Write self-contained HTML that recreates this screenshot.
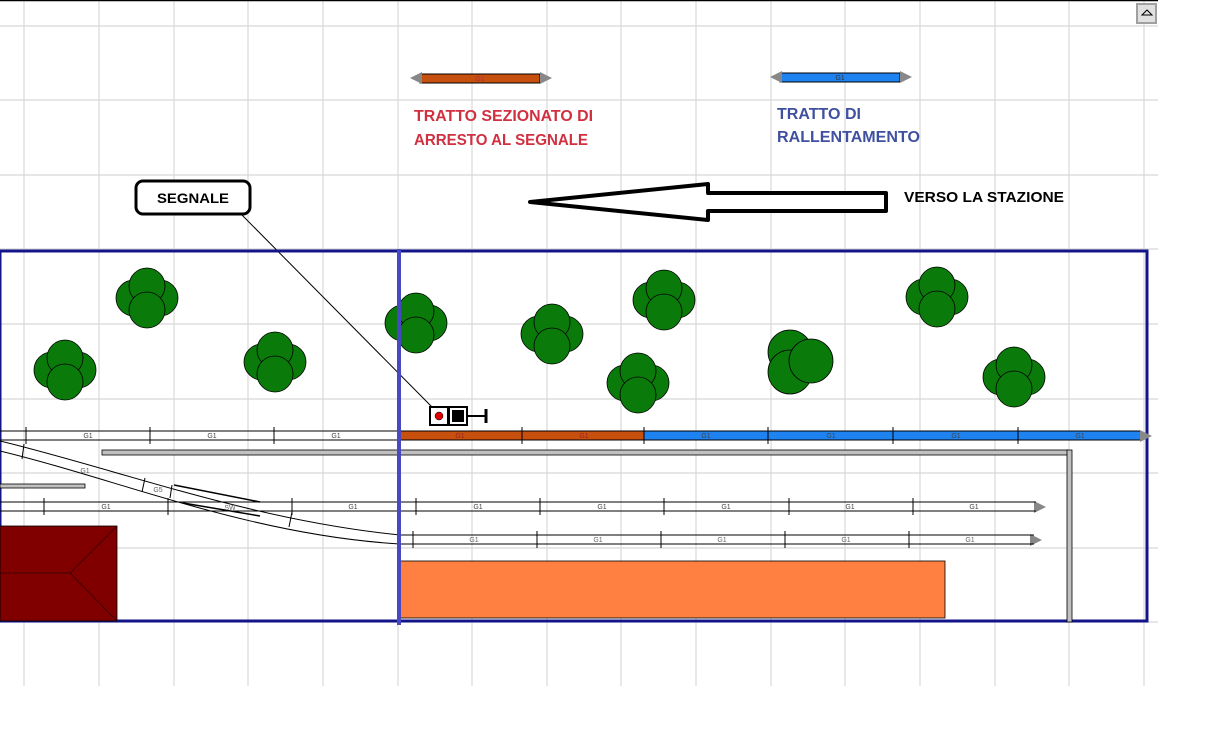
<!DOCTYPE html>
<html><head><meta charset="utf-8"><style>
html,body{margin:0;padding:0;background:#fff;}
svg{display:block;font-family:"Liberation Sans",sans-serif;}
.b{font-weight:bold;}
</style></head><body>
<svg width="1230" height="734" viewBox="0 0 1230 734" xmlns="http://www.w3.org/2000/svg">
<rect width="1230" height="734" fill="#fff"/>
<g stroke="#d8d8d8" stroke-width="1.2">
<line x1="24" y1="0" x2="24" y2="686"/><line x1="99" y1="0" x2="99" y2="686"/><line x1="174" y1="0" x2="174" y2="686"/><line x1="248" y1="0" x2="248" y2="686"/><line x1="323" y1="0" x2="323" y2="686"/><line x1="398" y1="0" x2="398" y2="686"/><line x1="472" y1="0" x2="472" y2="686"/><line x1="547" y1="0" x2="547" y2="686"/><line x1="621" y1="0" x2="621" y2="686"/><line x1="696" y1="0" x2="696" y2="686"/><line x1="771" y1="0" x2="771" y2="686"/><line x1="845" y1="0" x2="845" y2="686"/><line x1="920" y1="0" x2="920" y2="686"/><line x1="995" y1="0" x2="995" y2="686"/><line x1="1069" y1="0" x2="1069" y2="686"/><line x1="1144" y1="0" x2="1144" y2="686"/>
<line x1="0" y1="26" x2="1158" y2="26"/><line x1="0" y1="100" x2="1158" y2="100"/><line x1="0" y1="175" x2="1158" y2="175"/><line x1="0" y1="249" x2="1158" y2="249"/><line x1="0" y1="324" x2="1158" y2="324"/><line x1="0" y1="399" x2="1158" y2="399"/><line x1="0" y1="473" x2="1158" y2="473"/><line x1="0" y1="548" x2="1158" y2="548"/><line x1="0" y1="622" x2="1158" y2="622"/>
</g>
<line x1="0" y1="0.5" x2="1158" y2="0.5" stroke="#000" stroke-width="1.5"/>
<rect x="1137" y="4" width="19" height="19" fill="#e0e0e0" stroke="#a0a0a0" stroke-width="2"/>
<path d="M1142,15 L1147,10 L1152,15 Z" fill="none" stroke="#000"/>

<!-- legend bars -->
<rect x="420" y="74" width="120" height="9" fill="#c8500f" stroke="#000"/>
<polygon points="410,78 422,72 422,84" fill="#888"/><polygon points="552,78 540,72 540,84" fill="#888"/>
<text x="480" y="81" font-size="7" fill="#a33" text-anchor="middle">G1</text>
<rect x="780" y="73" width="120" height="9" fill="#1e82f0" stroke="#000"/>
<polygon points="770,77 782,71 782,83" fill="#888"/><polygon points="912,77 900,71 900,83" fill="#888"/>
<text x="840" y="80" font-size="7" fill="#333" text-anchor="middle">G1</text>
<text class="b" x="414" y="121" font-size="16" fill="#d03040" textLength="179" lengthAdjust="spacingAndGlyphs">TRATTO SEZIONATO DI</text>
<text class="b" x="414" y="145" font-size="16" fill="#d03040" textLength="174" lengthAdjust="spacingAndGlyphs">ARRESTO AL SEGNALE</text>
<text class="b" x="777" y="119" font-size="16" fill="#4050a0" textLength="84" lengthAdjust="spacingAndGlyphs">TRATTO DI</text>
<text class="b" x="777" y="142" font-size="16" fill="#4050a0" textLength="143" lengthAdjust="spacingAndGlyphs">RALLENTAMENTO</text>
<text class="b" x="904" y="202" font-size="15" fill="#000" textLength="160" lengthAdjust="spacingAndGlyphs">VERSO LA STAZIONE</text>
<polygon points="530,202 708,184 708,193 886,193 886,211 708,211 708,220" fill="#fff" stroke="#000" stroke-width="4" stroke-linejoin="round"/>
<rect x="136" y="181" width="114" height="33" rx="7" fill="#fff" stroke="#000" stroke-width="3"/>
<text class="b" x="193" y="203" font-size="14" text-anchor="middle" textLength="72" lengthAdjust="spacingAndGlyphs">SEGNALE</text>
<line x1="240" y1="213" x2="432" y2="407" stroke="#000" stroke-width="1"/>

<!-- border -->
<rect x="0" y="251" width="1147" height="370" fill="none" stroke="#14148a" stroke-width="3"/>

<!-- trees -->
<defs><g id="t" fill="#0a7a0a" stroke="#000" stroke-width="0.8">
<circle cx="-13" cy="0" r="18"/><circle cx="13" cy="0" r="18"/><circle cx="0" cy="-12" r="18"/><circle cx="0" cy="12" r="18"/></g></defs>
<use href="#t" x="147" y="298"/><use href="#t" x="65" y="370"/><use href="#t" x="275" y="362"/><use href="#t" x="416" y="323"/><use href="#t" x="552" y="334"/><use href="#t" x="664" y="300"/><use href="#t" x="638" y="383"/><use href="#t" x="1014" y="377"/><use href="#t" x="937" y="297"/>
<g fill="#0a7a0a" stroke="#000" stroke-width="0.8"><circle cx="790" cy="352" r="22"/><circle cx="790" cy="372" r="22"/><circle cx="811" cy="361" r="22"/></g>

<!-- platform & bars -->
<rect x="102" y="450" width="966" height="5" fill="#c0c0c0" stroke="#000" stroke-width="0.8"/>
<rect x="1067" y="450" width="5" height="172" fill="#c0c0c0" stroke="#000" stroke-width="0.8"/>
<rect x="0" y="484" width="85" height="4" fill="#c0c0c0" stroke="#000" stroke-width="0.8"/>

<!-- track 1 -->
<rect x="399" y="431" width="245" height="9" fill="#c8500f"/>
<rect x="644" y="431" width="496" height="9" fill="#1e82f0"/>
<polygon points="1152,436 1140,430 1140,442" fill="#888"/>
<g stroke="#000" stroke-width="1"><line x1="0" y1="431" x2="1140" y2="431"/><line x1="0" y1="440" x2="1140" y2="440"/>
<line x1="26" y1="427" x2="26" y2="444"/><line x1="150" y1="427" x2="150" y2="444"/><line x1="274" y1="427" x2="274" y2="444"/><line x1="522" y1="427" x2="522" y2="444"/><line x1="644" y1="427" x2="644" y2="444"/><line x1="768" y1="427" x2="768" y2="444"/><line x1="893" y1="427" x2="893" y2="444"/><line x1="1018" y1="427" x2="1018" y2="444"/></g>
<g font-size="7" fill="#444" text-anchor="middle"><text x="88" y="438">G1</text><text x="212" y="438">G1</text><text x="336" y="438">G1</text><text x="460" y="438" fill="#922">G1</text><text x="584" y="438" fill="#922">G1</text><text x="706" y="438">G1</text><text x="831" y="438">G1</text><text x="956" y="438">G1</text><text x="1080" y="438">G1</text></g>

<!-- track 2 -->
<polygon points="1046,507 1034,501 1034,513" fill="#888"/>
<g stroke="#000" stroke-width="1"><line x1="0" y1="502" x2="1036" y2="502"/><line x1="0" y1="511" x2="1036" y2="511"/>
<line x1="44" y1="498" x2="44" y2="515"/><line x1="168" y1="498" x2="168" y2="515"/><line x1="292" y1="498" x2="292" y2="515"/><line x1="416" y1="498" x2="416" y2="515"/><line x1="540" y1="498" x2="540" y2="515"/><line x1="664" y1="498" x2="664" y2="515"/><line x1="789" y1="498" x2="789" y2="515"/><line x1="913" y1="498" x2="913" y2="515"/></g>
<g font-size="7" fill="#444" text-anchor="middle"><text x="106" y="509">G1</text><text x="353" y="509">G1</text><text x="478" y="509">G1</text><text x="602" y="509">G1</text><text x="726" y="509">G1</text><text x="850" y="509">G1</text><text x="974" y="509">G1</text></g>

<!-- track 3 -->
<polygon points="1042,540 1030,534 1030,546" fill="#888"/>
<g stroke="#000" stroke-width="1" fill="none"><line x1="400" y1="535" x2="1034" y2="535"/><line x1="400" y1="544" x2="1034" y2="544"/>
<line x1="413" y1="531" x2="413" y2="548"/><line x1="537" y1="531" x2="537" y2="548"/><line x1="661" y1="531" x2="661" y2="548"/><line x1="785" y1="531" x2="785" y2="548"/><line x1="909" y1="531" x2="909" y2="548"/>
<path d="M0,441 C120,470 250,520 400,535"/><path d="M0,451 C120,480 250,535 400,544"/>
<path d="M174,485 L260,502" stroke-width="1.5"/><path d="M183,503 L260,516" stroke-width="1.5"/>
<line x1="24" y1="444" x2="22" y2="459"/><line x1="145" y1="478" x2="142" y2="492"/><line x1="172" y1="485" x2="170" y2="498"/><line x1="292" y1="512" x2="289" y2="527"/></g>
<g font-size="7" fill="#666" text-anchor="middle"><text x="85" y="473">G1</text><text x="158" y="492">G5</text><text x="230" y="510">SW</text><text x="474" y="542">G1</text><text x="598" y="542">G1</text><text x="722" y="542">G1</text><text x="846" y="542">G1</text><text x="970" y="542">G1</text></g>

<!-- house & station -->
<rect x="0" y="526" width="117" height="95" fill="#800000" stroke="#000" stroke-width="0.8"/>
<path d="M0,573 L70,573 L117,526 M70,573 L117,621" stroke="#300" stroke-width="0.8" fill="none"/>
<rect x="400" y="561" width="545" height="57" fill="#ff8040" stroke="#000" stroke-width="0.8"/>

<!-- divider -->
<line x1="399" y1="249" x2="399" y2="625" stroke="#4848c0" stroke-width="4"/>

<!-- signal -->
<rect x="430" y="407" width="18" height="18" fill="#fff" stroke="#000" stroke-width="2"/>
<circle cx="439" cy="416" r="4" fill="#e00000" stroke="#000" stroke-width="0.5"/>
<rect x="449" y="407" width="18" height="18" fill="#fff" stroke="#000" stroke-width="2"/>
<rect x="452" y="410" width="12" height="12" fill="#000"/>
<line x1="467" y1="416" x2="486" y2="416" stroke="#000" stroke-width="2"/>
<line x1="486" y1="409" x2="486" y2="423" stroke="#000" stroke-width="3"/>
</svg>
</body></html>
